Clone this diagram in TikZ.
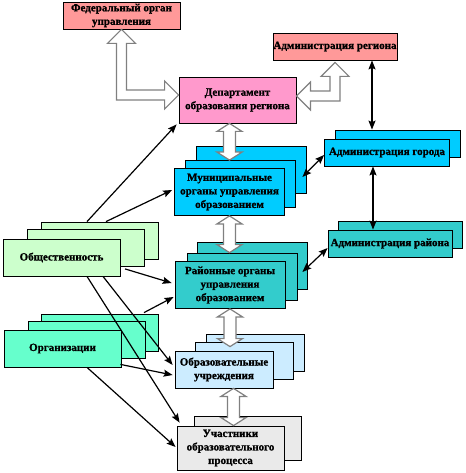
\documentclass[tikz,border=0pt]{standalone}
\usepackage{fontspec}
\setmainfont{Liberation Serif}[BoldFont={Liberation Serif Bold},BoldFeatures={FakeBold=1.2}]
\usetikzlibrary{arrows.meta,calc}
\definecolor{salmon}{HTML}{FF9999}
\definecolor{pinkd}{HTML}{FF99CC}
\definecolor{cyanm}{HTML}{00CCFF}
\definecolor{tealr}{HTML}{33CCCC}
\definecolor{greenl}{HTML}{CCFFCC}
\definecolor{greeno}{HTML}{66FFCC}
\definecolor{blueo}{HTML}{CCECFF}
\definecolor{grayu}{HTML}{EAEAEA}
\definecolor{blkgray}{HTML}{808080}
\newcommand\vdbl[3]{%
  \coordinate (T) at (#1 |- #2);
  \coordinate (B) at (#1 |- #3);
  \draw[blk] (T) -- ($(T)+(12.5,8)$) -- ($(T)+(6,8)$) -- ($(B)+(6,-8)$) -- ($(B)+(12.5,-8)$) -- (B)
    -- ($(B)+(-12.5,-8)$) -- ($(B)+(-6,-8)$) -- ($(T)+(-6,8)$) -- ($(T)+(-12.5,8)$) -- cycle;}
\begin{document}
\begin{tikzpicture}[x=1pt,y=-1pt,
  box/.style={draw=black,line width=0.8pt,align=center,inner sep=0pt,
    font=\bfseries\fontsize{11}{13.5}\selectfont},
  sz/.style 2 args={minimum width=#1,minimum height=#2},
  blk/.style={draw=blkgray,fill=white,line width=1.2pt,line join=miter},
  tip/.tip={Stealth[length=9pt,width=7pt,inset=1.5pt]},
  arr/.style={-tip,line width=1.2pt},
  dbl/.style={tip-tip,line width=1.2pt}]
\useasboundingbox (0,0) rectangle (465,473);

% top boxes
\node[box,fill=salmon,sz={117}{27}] (fed) at (121.5,15.5) {Федеральный орган\\управления};
\node[box,fill=salmon,sz={124}{27}] (adm) at (335,46.5) {Администрация региона};
\node[box,fill=pinkd,sz={117}{46}] (dep) at (237.5,100) {Департамент\\образования региона};

% municipal stack
\node[box,fill=cyanm,sz={110}{47}] (mun3) at (251,170) {};
\node[box,fill=cyanm,sz={110}{47}] (mun2) at (240,184) {};
\node[box,fill=cyanm,sz={110}{47}] (mun) at (229.5,192) {Муниципальные\\органы управления\\образованием};

% city administration
\node[box,fill=cyanm,sz={125}{27}] (admc2) at (397.5,143.5) {};
\node[box,fill=cyanm,sz={125}{27}] (admc) at (387,152.5) {Администрация города};

% rayon administration
\node[box,fill=tealr,sz={124}{27}] (adr2) at (400,234.5) {};
\node[box,fill=tealr,sz={124}{27}] (adr) at (390,243.5) {Администрация района};

% rayon organs stack
\node[box,fill=tealr,sz={110}{47}] (ray3) at (252,265.5) {};
\node[box,fill=tealr,sz={110}{47}] (ray2) at (242.5,276.5) {};
\node[box,fill=tealr,sz={110}{47}] (ray) at (230,285) {Районные органы\\управления\\образованием};

% public
\node[box,fill=greenl,sz={117}{37}] (obs3) at (99.5,240.5) {};
\node[box,fill=greenl,sz={117}{37}] (obs2) at (86,248) {};
\node[box,fill=greenl,sz={117}{37}] (obs) at (61.5,257.5) {Общественность};

% organizations
\node[box,fill=greeno,sz={117}{37}] (org3) at (100,332.5) {};
\node[box,fill=greeno,sz={117}{37}] (org2) at (86.5,339.5) {};
\node[box,fill=greeno,sz={117}{37}] (org) at (62.5,348.5) {Организации};

% educational institutions
\node[box,fill=blueo,sz={98}{37}] (obr3) at (255.5,352.5) {};
\node[box,fill=blueo,sz={98}{37}] (obr2) at (244,360.5) {};
\node[box,fill=blueo,sz={98}{37}] (obr) at (224,369.5) {Образовательные\\учреждения};

% participants
\node[box,fill=grayu,sz={107}{44}] (uch2) at (248,438) {};
\node[box,fill=grayu,sz={107}{44}] (uch) at (230.5,448) {Участники\\образовательного\\процесса};

% L-shaped block arrows
\coordinate (F) at (fed.south);
\coordinate (D) at ([yshift=5pt]dep.west);
\draw[blk] (F) -- ++(14,14) -- ++(-9,0) |- ($(D)+(-14,-5)$) -- ++(0,-9) -- (D)
  -- ($(D)+(-14,14)$) -- ++(0,-9) -| ($(F)+(-5,14)$) -- ++(-9,0) -- cycle;
\coordinate (L) at ([yshift=4pt]dep.east);
\coordinate (U) at ([yshift=-2pt]adm.south);
\draw[blk] (L) -- ++(14,-14) -- ++(0,9) -| ($(U)+(-5,14)$) -- ++(-9,0) -- (U)
  -- ($(U)+(14,14)$) -- ++(-9,0) |- ($(L)+(14,5)$) -- ++(0,9) -- cycle;

% vertical block arrows
\vdbl{mun}{dep.south}{mun2.north}
\vdbl{mun}{mun.south}{ray2.north}
\coordinate (p1) at ([yshift=4pt]obr.north);
\vdbl{ray}{ray.south}{p1}
\coordinate (p2) at ([xshift=3pt]uch.center);
\vdbl{p2}{obr.south}{uch.north}

% black double arrows
\coordinate (a1) at ([xshift=37pt]adm.south);
\draw[dbl] (a1) -- (a1 |- admc2.north);
\coordinate (a2) at ([xshift=-14pt]admc.south);
\draw[dbl] (a2) -- (a2 |- adr.north);
\draw[dbl] ([yshift=-2.5pt]admc.west) -- ([xshift=-4pt,yshift=-7pt]mun3.east);
\draw[dbl] ([yshift=-4.5pt]adr.west) -- ([xshift=-5pt,yshift=-6.5pt]ray3.east);

% black single arrows
\draw[arr] ([xshift=-12.5pt]obs3.north) -- ([xshift=-2pt,yshift=-1pt]dep.south west);
\draw[arr] ([xshift=6.5pt]obs3.north) -- ([xshift=-2pt,yshift=2pt]mun.west);
\draw[arr] ([xshift=39pt,yshift=-2pt]obs2.south) -- ([xshift=-3pt,yshift=2pt]ray.west);
\draw[arr] ([xshift=44pt,yshift=1pt]org3.north) -- ([xshift=-1pt,yshift=-12pt]ray.west);
\draw[arr] ([xshift=25.5pt]obs.south) -- ([xshift=3pt,yshift=3pt]uch.north west);
\draw[arr] ([xshift=41.5pt]obs.south) -- ([xshift=-2pt,yshift=4.5pt]obr.west);
\draw[arr] ([xshift=-1pt,yshift=3pt]org.south east) -- ([xshift=-2pt,yshift=-5.5pt]obr.west);
\draw[arr] ([xshift=24.5pt]org.south) -- ([xshift=-1pt,yshift=1pt]uch.west);
\end{tikzpicture}
\end{document}
